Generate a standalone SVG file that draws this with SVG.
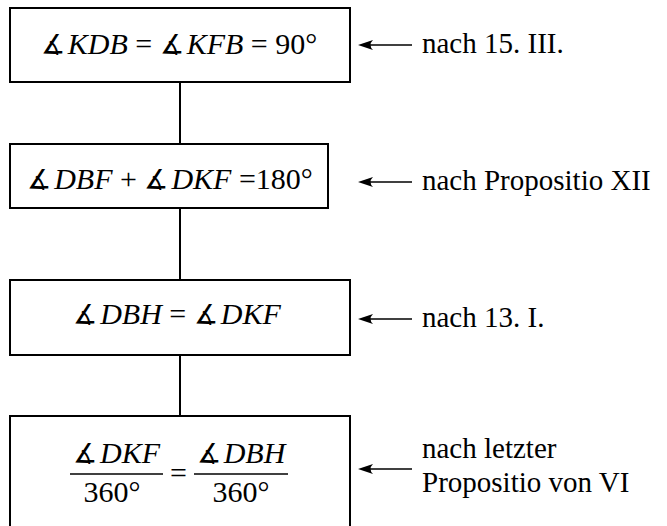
<svg xmlns="http://www.w3.org/2000/svg" width="667" height="526" viewBox="0 0 667 526">
  <style>
    .box { fill: #fff; stroke: #000; stroke-width: 2; }
    .conn { stroke: #000; stroke-width: 2; fill: none; }
    .arr { stroke: #000; stroke-width: 1.6; fill: none; }
    .head { fill: #000; stroke: none; }
    .frac { stroke: #000; stroke-width: 1.5; }
    .math { font-size: 30px; }
    .it { font-style: italic; }
    .ang { font-size: 27px; font-style: normal; }
    .lbl { font-size: 29px; }
  </style>
  <defs>
    <path id="arrowhead" class="head" d="M0,0 L15,-5 Q10,0 15,5 Z"/>
  </defs>

  <rect width="667" height="526" fill="#fff"/>

  <!-- vertical links between the boxes -->
  <g id="connectors">
    <line class="conn" x1="180" y1="82" x2="180" y2="144"/>
    <line class="conn" x1="180" y1="208" x2="180" y2="280"/>
    <line class="conn" x1="180" y1="355" x2="180" y2="416"/>
  </g>

  <g font-family="Liberation Serif, Times New Roman, serif" fill="#000">
    <g id="node1">
      <rect class="box" x="10" y="8" width="340" height="74"/>
      <text class="math" x="179" y="54" text-anchor="middle"><tspan class="ang">∡</tspan><tspan class="it" dx="3">KDB</tspan> = <tspan class="ang">∡</tspan><tspan class="it" dx="3">KFB</tspan> = 90°</text>
    </g>

    <g id="node2">
      <rect class="box" x="10" y="144" width="318" height="64"/>
      <text class="math" x="170" y="189" text-anchor="middle"><tspan class="ang">∡</tspan><tspan class="it" dx="3">DBF</tspan> + <tspan class="ang">∡</tspan><tspan class="it" dx="3">DKF</tspan> =180°</text>
    </g>

    <g id="node3">
      <rect class="box" x="10" y="280" width="340" height="75"/>
      <text class="math" x="177" y="324" text-anchor="middle"><tspan class="ang">∡</tspan><tspan class="it" dx="3">DBH</tspan> = <tspan class="ang">∡</tspan><tspan class="it" dx="3">DKF</tspan></text>
    </g>

    <g id="node4">
      <rect class="box" x="10" y="416" width="340" height="120"/>
      <text class="math" x="116.5" y="463" text-anchor="middle"><tspan class="ang">∡</tspan><tspan class="it" dx="3">DKF</tspan></text>
      <line class="frac" x1="70" y1="474" x2="163" y2="474"/>
      <text class="math" x="112" y="502" text-anchor="middle">360°</text>
      <text class="math" x="178.5" y="483" text-anchor="middle">=</text>
      <text class="math" x="241" y="463" text-anchor="middle"><tspan class="ang">∡</tspan><tspan class="it" dx="3">DBH</tspan></text>
      <line class="frac" x1="194" y1="474" x2="288" y2="474"/>
      <text class="math" x="241" y="502" text-anchor="middle">360°</text>
    </g>

    <!-- justification arrows and notes -->
    <g id="note1">
      <line class="arr" x1="364" y1="45" x2="412" y2="45"/>
      <use href="#arrowhead" x="358" y="45"/>
      <text class="lbl" x="422" y="53">nach 15. III.</text>
    </g>
    <g id="note2">
      <line class="arr" x1="364" y1="182" x2="412" y2="182"/>
      <use href="#arrowhead" x="358" y="182"/>
      <text class="lbl" x="422" y="190">nach Propositio XII</text>
    </g>
    <g id="note3">
      <line class="arr" x1="364" y1="319" x2="412" y2="319"/>
      <use href="#arrowhead" x="358" y="319"/>
      <text class="lbl" x="422" y="327">nach 13. I.</text>
    </g>
    <g id="note4">
      <line class="arr" x1="364" y1="469" x2="412" y2="469"/>
      <use href="#arrowhead" x="358" y="469"/>
      <text class="lbl" x="422" y="458">nach letzter</text>
      <text class="lbl" x="422" y="492">Propositio von VI</text>
    </g>
  </g>
</svg>
